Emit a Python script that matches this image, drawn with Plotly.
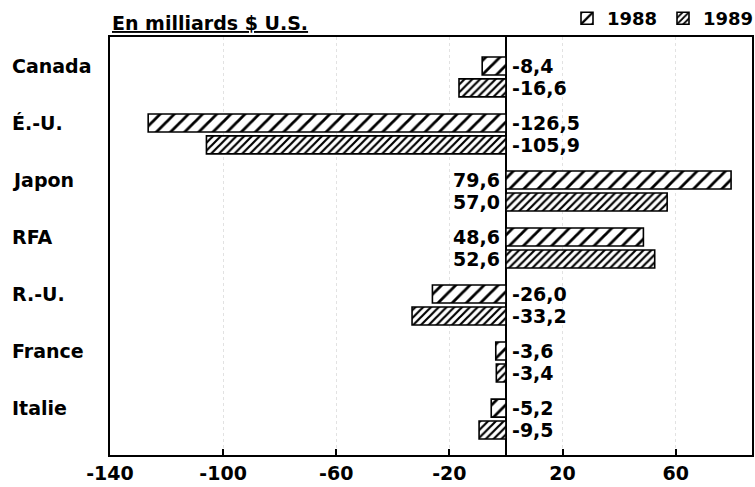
import plotly.graph_objects as go

categories = ["Canada", "É.-U.", "Japon", "RFA", "R.-U.", "France", "Italie"]
v1988 = [-8.4, -126.5, 79.6, 48.6, -26.0, -3.6, -5.2]
v1989 = [-16.6, -105.9, 57.0, 52.6, -33.2, -3.4, -9.5]
tick_vals = [-140, -100, -60, -20, 20, 60]
tick_text = ["-140", "-100", "-60", "-20", "20", "60"]

FONT = "DejaVu Sans"
FS = 19


def fmt(v):
    return f"{v:.1f}".replace(".", ",")


fig = go.Figure()
fig.add_trace(go.Bar(
    name="1988", y=categories, x=v1988, orientation="h",
    marker=dict(color="white", line=dict(color="black", width=1.6),
                pattern=dict(shape="/", fgcolor="black", bgcolor="white",
                             size=10, solidity=0.28)),
))
fig.add_trace(go.Bar(
    name="1989", y=categories, x=v1989, orientation="h",
    marker=dict(color="white", line=dict(color="black", width=1.6),
                pattern=dict(shape="/", fgcolor="black", bgcolor="white",
                             size=5.5, solidity=0.4)),
))

annotations = []
for vals, shift in ((v1988, 11), (v1989, -11)):
    for cat, v in zip(categories, vals):
        neg = v < 0
        annotations.append(dict(
            x=0, y=cat, xref="x", yref="y", text=fmt(v), showarrow=False,
            xanchor="left" if neg else "right", xshift=4 if neg else -4,
            yshift=shift, font=dict(family=FONT, size=FS, color="black", weight="bold"),
        ))
for cat in categories:
    annotations.append(dict(
        x=-0.1557, y=cat, xref="paper", yref="y", text=cat, showarrow=False,
        xanchor="left", yshift=11,
        font=dict(family=FONT, size=FS, color="black", weight="bold"),
    ))
annotations.append(dict(
    x=0, y=1, xref="paper", yref="paper", text="<u>En milliards $ U.S.</u>",
    showarrow=False, xanchor="left", yanchor="bottom", yshift=1,
    font=dict(family=FONT, size=FS, color="black", weight="bold"),
))

fig.update_layout(
    template="none",
    width=755, height=487,
    margin=dict(l=110, r=3, t=37, b=32, autoexpand=False),
    paper_bgcolor="white", plot_bgcolor="white",
    barmode="group", bargap=0.23, bargroupgap=0.18,
    font=dict(family=FONT, size=FS, color="black", weight="bold"),
    showlegend=True,
    legend=dict(orientation="h", xref="container", yref="container",
                x=0.751, xanchor="left", y=1.0, yanchor="top",
                font=dict(family=FONT, size=18, color="black", weight="bold"),
                bgcolor="rgba(0,0,0,0)", itemwidth=30, tracegroupgap=0,
                entrywidth=51, entrywidthmode="pixels",
                traceorder="normal"),
    annotations=annotations,
    xaxis=dict(range=[-140, 87], tickvals=tick_vals, ticktext=tick_text,
               ticks="inside", ticklen=6, tickwidth=1.5, tickcolor="black",
               showline=True, linecolor="black", linewidth=2, mirror=True,
               showgrid=True, gridcolor="#e2e2e2", griddash="dot", gridwidth=1,
               zeroline=True, zerolinecolor="black", zerolinewidth=2,
               tickfont=dict(family=FONT, size=FS, color="black", weight="bold"),
               automargin=False, fixedrange=True),
    yaxis=dict(range=[6.63, -0.70], showticklabels=False, ticks="",
               showline=True, linecolor="black", linewidth=2, mirror=True,
               showgrid=False, zeroline=False, automargin=False, fixedrange=True),
)

fig.write_html("out.html", config={"displayModeBar": False},
               post_script="document.body.style.margin='0';")
